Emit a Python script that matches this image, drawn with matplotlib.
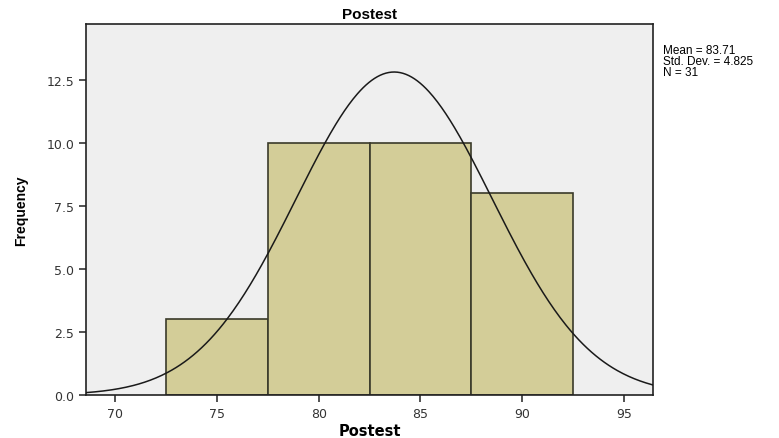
import matplotlib
matplotlib.use("Agg")
import matplotlib.pyplot as plt
import numpy as np

plt.rcParams["font.family"] = ["Liberation Sans", "DejaVu Sans"]

# histogram bins (Postest scores) and counts
bin_edges = [72.5, 77.5, 82.5, 87.5, 92.5]
counts = [3, 10, 10, 8]
mean = 83.71
std = 4.825
n = 31

x_ticks = [70, 75, 80, 85, 90, 95]
y_ticks = [0.0, 2.5, 5.0, 7.5, 10.0, 12.5]

fig = plt.figure(figsize=(7.79, 4.39), dpi=100)
ax = fig.add_axes([0.1104, 0.098, 0.7279, 0.845])
ax.set_facecolor("#efefef")

widths = np.diff(bin_edges)
ax.bar(bin_edges[:-1], counts, width=widths, align="edge",
       color="#d3cd98", edgecolor="#3a3a2a", linewidth=1.2, zorder=2)

# normal curve scaled to counts
xs = np.linspace(68.5, 96.5, 400)
bw = widths[0]
ys = n * bw / (std * np.sqrt(2 * np.pi)) * np.exp(-0.5 * ((xs - mean) / std) ** 2)
ax.plot(xs, ys, color="#1a1a1a", lw=1.1, zorder=3)

ax.set_xlim(68.57, 96.43)
ax.set_ylim(0, 14.72)
ax.set_xticks(x_ticks)
ax.set_yticks(y_ticks)
ax.set_yticklabels([f"{v:.1f}" for v in y_ticks])
ax.tick_params(direction="out", length=5, width=1.2, color="#333333",
               labelsize=9, labelcolor="#333333")
for lab in ax.get_xticklabels() + ax.get_yticklabels():
    lab.set_family("DejaVu Sans")
for s in ax.spines.values():
    s.set_color("#222222")
    s.set_linewidth(1.2)

ax.set_title("Postest", fontsize=11, fontweight="bold", pad=4)
ax.set_xlabel("Postest", fontsize=10.5, fontweight="bold", labelpad=2,
              family="DejaVu Sans")
ax.set_ylabel("Frequency", fontsize=10, fontweight="bold", labelpad=13)

fig.text(0.851, 0.897, f"Mean = {mean}\nStd. Dev. = {std}\nN = {n}",
         fontsize=8.5, va="top", ha="left", linespacing=0.9)

fig.savefig("out.png", dpi=100)
